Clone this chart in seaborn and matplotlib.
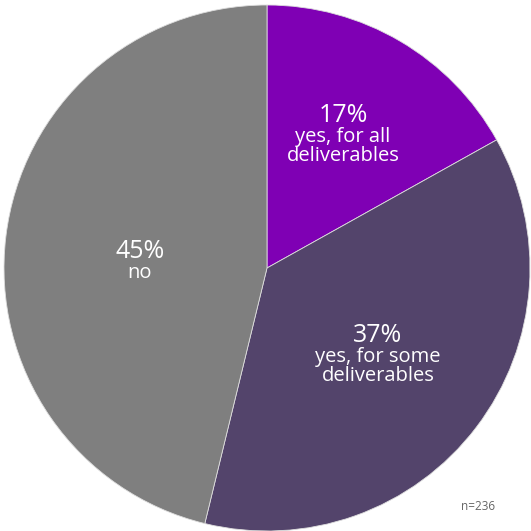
import matplotlib
matplotlib.use("Agg")
import matplotlib.pyplot as plt
import seaborn as sns

categories = ["yes, for all\ndeliverables", "yes, for some\ndeliverables", "no"]
shares = [16.9, 36.9, 46.2]
pct_labels = ["17%", "37%", "45%"]
colors = ["#7f00b4", "#53446b", "#7f7f7f"]
sample_note = "n=236"

sns.set_theme(style="white")
plt.rcParams["font.family"] = ["Open Sans", "DejaVu Sans"]

W = 531
fig = plt.figure(figsize=(W / 100, W / 100), dpi=100)
ax = fig.add_axes([0, 0, 1, 1])

# pie centre / radius in pixels
cx, cy, rad = 267, 268, 263

wedges, _ = ax.pie(
    shares,
    colors=sns.color_palette(colors),
    startangle=90,
    counterclock=False,
    radius=1,
    wedgeprops=dict(edgecolor="#dddddd", linewidth=0.6),
)

ax.set_xlim(-cx / rad, (W - cx) / rad)
ax.set_ylim(-(W - cy) / rad, cy / rad)
ax.set_aspect("auto")
ax.axis("off")

# label anchor points in pixels (top-left origin)
label_px = [(343, 115), (378, 335), (140, 251)]
for (px, py), pct, cat in zip(label_px, pct_labels, categories):
    x = (px - cx) / rad
    y = (cy - py) / rad
    ax.text(x, y, pct, color="white", fontsize=18, ha="center", va="center")
    ax.text(x, y - 12 / rad, cat, color="white", fontsize=14.5,
            ha="center", va="top", linespacing=0.95)

fig.text(478 / W, 1 - 506 / W, sample_note, color="#666666", fontsize=8.5,
         ha="center", va="center")

fig.savefig("out.png", dpi=100)
plt.close(fig)
